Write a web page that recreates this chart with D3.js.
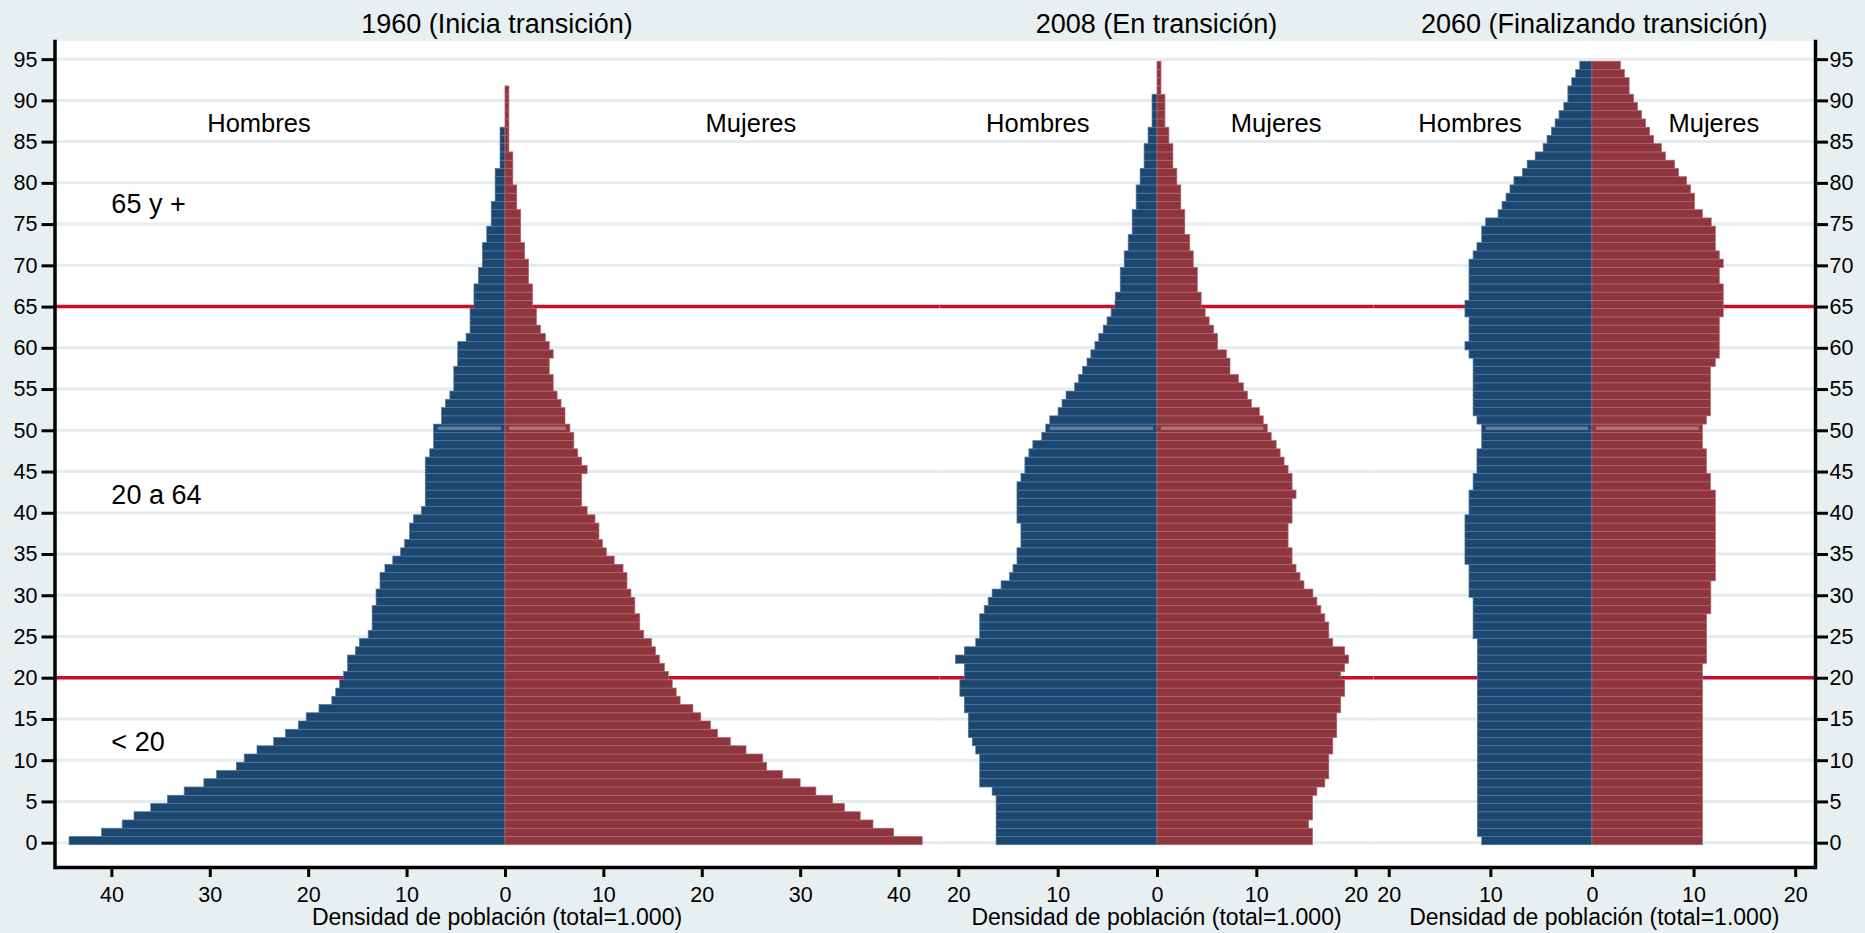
<!DOCTYPE html>
<html>
<head>
<meta charset="utf-8">
<script src="https://cdn.jsdelivr.net/npm/d3@7"></script>
<style>
    body { margin: 0; background: #e8eff1; }
    svg { display: block; font-family: "Liberation Sans", Arial, sans-serif; }
</style>
</head>
<body>
<svg id="pyramid"></svg>
<script>
/// Data: share of population per single year of age (index = age), per 1.000
var men1960 = [44.3, 41.0, 38.9, 37.7, 36.0, 34.3, 32.6, 30.6, 29.3, 27.3,
    26.5, 25.2, 23.5, 22.3, 21.0, 20.2, 18.9, 17.6, 17.2, 16.8,
    16.4, 16.0, 16.0, 15.2, 14.8, 13.9, 13.5, 13.5, 13.5, 13.1,
    13.1, 12.7, 12.7, 12.2, 11.4, 10.6, 10.2, 9.7, 9.7, 9.3,
    8.5, 8.1, 8.1, 8.1, 8.1, 8.1, 8.1, 7.65, 7.25, 7.25,
    7.25, 6.45, 6.45, 6.05, 5.6, 5.2, 5.2, 5.2, 4.8, 4.8,
    4.8, 3.95, 3.55, 3.55, 3.55, 3.15, 3.15, 3.15, 2.7, 2.7,
    2.3, 2.3, 2.3, 1.85, 1.85, 1.4, 1.4, 1.4, 1.0, 1.0,
    1.0, 1.0, 0.5, 0.5, 0.5, 0.5, 0.5];
var women1960 = [42.4, 39.5, 37.4, 36.1, 34.5, 33.3, 31.6, 30.0, 28.2, 26.6,
    26.2, 24.5, 22.9, 21.6, 20.9, 19.9, 19.1, 17.8, 17.4, 17.0,
    16.6, 16.2, 15.7, 15.3, 14.9, 14.1, 13.7, 13.7, 13.2, 13.2,
    12.8, 12.4, 12.4, 12.0, 11.1, 10.3, 9.9, 9.55, 9.55, 9.15,
    8.35, 7.8, 7.8, 7.8, 7.8, 8.35, 7.8, 7.4, 7.0, 7.0,
    6.6, 6.1, 6.1, 5.7, 5.3, 4.9, 4.9, 4.5, 4.5, 4.9,
    4.5, 4.1, 3.6, 3.2, 3.2, 2.8, 2.8, 2.8, 2.4, 2.4,
    2.4, 2.0, 2.0, 1.6, 1.6, 1.6, 1.6, 1.2, 1.2, 1.2,
    0.8, 0.8, 0.8, 0.8, 0.4, 0.4, 0.4, 0.4, 0.4, 0.4,
    0.4, 0.4];
var men2008 = [16.2, 16.2, 16.2, 16.2, 16.2, 16.2, 16.6, 17.85, 17.85, 17.85,
    17.85, 18.25, 18.6, 19.0, 19.0, 19.0, 19.4, 19.4, 19.85, 19.85,
    19.4, 19.4, 20.3, 19.4, 18.25, 17.85, 17.85, 17.85, 17.4, 17.0,
    16.6, 15.7, 14.85, 14.5, 14.1, 14.1, 13.7, 13.7, 13.7, 14.1,
    14.1, 14.1, 14.1, 14.1, 13.7, 13.3, 13.3, 12.9, 12.5, 11.6,
    11.2, 10.8, 9.96, 9.56, 9.16, 8.29, 7.89, 7.49, 7.05, 6.66,
    6.25, 5.86, 5.42, 5.03, 4.62, 4.23, 4.2, 3.7, 3.7, 3.7,
    3.3, 3.3, 2.9, 2.9, 2.5, 2.5, 2.5, 2.1, 2.1, 2.1,
    1.7, 1.7, 1.3, 1.3, 1.3, 0.9, 0.9, 0.5, 0.5, 0.5,
    0.5];
var women2008 = [15.66, 15.66, 15.27, 15.66, 15.66, 15.66, 16.1, 16.9, 17.3, 17.3,
    17.3, 17.7, 17.7, 18.1, 18.1, 18.1, 18.5, 18.5, 18.9, 18.9,
    18.5, 18.9, 19.3, 18.9, 17.7, 17.3, 17.3, 16.9, 16.5, 16.1,
    15.7, 14.8, 14.4, 14.0, 13.6, 13.6, 13.2, 13.2, 13.2, 13.6,
    13.6, 13.6, 14.0, 13.6, 13.6, 13.2, 12.8, 12.4, 12.0, 11.5,
    11.1, 10.7, 10.3, 9.5, 9.1, 8.7, 8.2, 7.35, 7.35, 7.0,
    6.1, 6.1, 5.7, 5.25, 4.85, 4.45, 4.45, 4.06, 4.06, 4.06,
    3.65, 3.65, 3.3, 3.3, 2.8, 2.8, 2.8, 2.4, 2.4, 2.4,
    2.0, 2.0, 1.6, 1.6, 1.6, 1.2, 1.2, 0.8, 0.8, 0.8,
    0.8, 0.4, 0.4, 0.4, 0.4];
var men2060 = [10.85, 11.28, 11.28, 11.28, 11.28, 11.28, 11.28, 11.28, 11.28, 11.28,
    11.28, 11.28, 11.28, 11.28, 11.28, 11.28, 11.28, 11.28, 11.28, 11.28,
    11.28, 11.28, 11.28, 11.28, 11.28, 11.7, 11.7, 11.7, 11.7, 11.7,
    12.1, 12.1, 12.1, 12.1, 12.5, 12.5, 12.5, 12.5, 12.5, 12.5,
    12.1, 12.1, 12.1, 11.7, 11.7, 11.32, 11.32, 11.32, 10.85, 10.85,
    10.85, 11.32, 11.7, 11.7, 11.7, 11.7, 11.7, 11.7, 11.7, 12.1,
    12.5, 12.1, 12.1, 12.1, 12.5, 12.5, 12.1, 12.1, 12.1, 12.1,
    12.1, 11.7, 11.32, 10.85, 10.85, 10.46, 9.24, 8.85, 8.46, 8.07,
    7.68, 6.85, 6.38, 5.59, 4.81, 4.42, 4.0, 3.63, 3.24, 2.77,
    2.37, 2.37, 1.99, 1.6, 1.2];
var women2060 = [10.88, 10.88, 10.88, 10.88, 10.88, 10.88, 10.88, 10.88, 10.88, 10.88,
    10.88, 10.88, 10.88, 10.88, 10.88, 10.88, 10.88, 10.88, 10.88, 10.88,
    10.88, 10.88, 11.28, 11.28, 11.28, 11.28, 11.28, 11.28, 11.7, 11.7,
    11.7, 11.7, 12.14, 12.14, 12.14, 12.14, 12.14, 12.14, 12.14, 12.14,
    12.14, 12.14, 12.14, 11.66, 11.66, 11.27, 11.27, 11.27, 10.88, 10.88,
    10.88, 11.27, 11.66, 11.66, 11.66, 11.66, 11.66, 11.66, 12.14, 12.53,
    12.53, 12.53, 12.53, 12.53, 12.92, 12.92, 12.92, 12.92, 12.53, 12.53,
    12.92, 12.53, 12.14, 12.14, 12.14, 11.74, 10.88, 10.1, 10.1, 9.71,
    9.31, 8.53, 8.14, 7.23, 6.84, 6.06, 5.67, 5.27, 4.88, 4.49,
    4.1, 3.66, 3.66, 3.2, 2.8];

/// Labels and ticks
var panelTitles = ["1960 (Inicia transición)", "2008 (En transición)", "2060 (Finalizando transición)"];
var sexLabels = ["Hombres", "Mujeres"];
var groupLabels = ["65 y +", "20 a 64", "< 20"];
var refAges = [20, 65];
var ageTicks = [0, 5, 10, 15, 20, 25, 30, 35, 40, 45, 50, 55, 60, 65, 70, 75, 80, 85, 90, 95];
var xTicks1960 = [-40, -30, -20, -10, 0, 10, 20, 30, 40];
var xTicks2008 = [-20, -10, 0, 10, 20];
var xTicks2060 = [-20, -10, 0, 10, 20];
var xTitle = "Densidad de población (total=1.000)";

/// Layout
var svgWidth = 1865;
var svgHeight = 933;
var plot = {left: 54.5, right: 1815, top: 41, bottom: 867};

var blue = "#1c4770", blueEdge = "#56779a";
var red = "#8f353e", redEdge = "#b0686f";
var refColor = "#c8102e";
var gridColor = "#e4ecef";

var panels = [
    {title: panelTitles[0], men: men1960, women: women1960, ticks: xTicks1960, px: [54.5, 939.5], dom: [-45.78, 44.16], sexAt: 25},
    {title: panelTitles[1], men: men2008, women: women2008, ticks: xTicks2008, px: [939.5, 1373.5], dom: [-21.9, 21.8], sexAt: 12},
    {title: panelTitles[2], men: men2060, women: women2060, ticks: xTicks2060, px: [1373.5, 1815], dom: [-21.5, 21.95], sexAt: 12}
];

var svg = d3.select("#pyramid")
    .attr("width", svgWidth)
    .attr("height", svgHeight);

svg.append("rect")
    .attr("width", svgWidth)
    .attr("height", svgHeight)
    .attr("fill", "#e8eff1");

svg.append("rect")
    .attr("x", plot.left)
    .attr("y", plot.top)
    .attr("width", plot.right - plot.left)
    .attr("height", plot.bottom - plot.top)
    .attr("fill", "#fff");

/// Shared age scale
var y = d3.scaleLinear().domain([-2.95, 97.2]).range([plot.bottom, plot.top]);

panels.forEach(function(p, pi) {
    var x = d3.scaleLinear().domain(p.dom).range(p.px);
    var g = svg.append("g");
    var mid = (p.px[0] + p.px[1]) / 2;

    // gridlines
    g.selectAll(".grid")
        .data(ageTicks)
        .enter()
        .append("line")
        .attr("x1", p.px[0])
        .attr("x2", p.px[1])
        .attr("y1", d => y(d))
        .attr("y2", d => y(d))
        .attr("stroke", gridColor)
        .attr("stroke-width", 3);

    // reference lines at 20 and 65
    g.selectAll(".ref")
        .data(refAges)
        .enter()
        .append("line")
        .attr("x1", p.px[0])
        .attr("x2", p.px[1])
        .attr("y1", d => y(d))
        .attr("y2", d => y(d))
        .attr("stroke", refColor)
        .attr("stroke-width", 3.5);

    // men to the left
    g.selectAll(".men")
        .data(p.men)
        .enter()
        .append("rect")
        .attr("x", d => x(-d))
        .attr("y", (d, i) => y(i + 0.75))
        .attr("width", d => x(0) - x(-d))
        .attr("height", (d, i) => y(i - 0.25) - y(i + 0.75))
        .attr("fill", blue)
        .attr("stroke", blueEdge)
        .attr("stroke-width", 0.7);

    // women to the right
    g.selectAll(".women")
        .data(p.women)
        .enter()
        .append("rect")
        .attr("x", x(0))
        .attr("y", (d, i) => y(i + 0.75))
        .attr("width", d => x(d) - x(0))
        .attr("height", (d, i) => y(i - 0.25) - y(i + 0.75))
        .attr("fill", red)
        .attr("stroke", redEdge)
        .attr("stroke-width", 0.7);

    // light streak across the age-50 bars
    g.append("line")
        .attr("x1", x(-p.men[50]) + 4)
        .attr("x2", x(0) - 4)
        .attr("y1", y(50.25))
        .attr("y2", y(50.25))
        .attr("stroke", "#fff")
        .attr("stroke-opacity", 0.3)
        .attr("stroke-width", 3.5);
    g.append("line")
        .attr("x1", x(0) + 4)
        .attr("x2", x(p.women[50]) - 4)
        .attr("y1", y(50.25))
        .attr("y2", y(50.25))
        .attr("stroke", "#fff")
        .attr("stroke-opacity", 0.3)
        .attr("stroke-width", 3.5);

    // Hombres / Mujeres
    g.selectAll(".sex")
        .data(sexLabels)
        .enter()
        .append("text")
        .attr("x", (d, i) => x(i === 0 ? -p.sexAt : p.sexAt))
        .attr("y", y(86.2))
        .attr("text-anchor", "middle")
        .attr("font-size", 25.5)
        .text(d => d);

    // age group labels, first panel only
    if (pi === 0) {
        var groupAt = [76.3, 41.1, 11.1];
        g.selectAll(".grp")
            .data(groupLabels)
            .enter()
            .append("text")
            .attr("x", x(-40))
            .attr("y", (d, i) => y(groupAt[i]))
            .attr("font-size", 27)
            .text(d => d);
    }

    // panel title
    svg.append("text")
        .attr("x", mid)
        .attr("y", 33)
        .attr("text-anchor", "middle")
        .attr("font-size", 27)
        .text(p.title);

    // x axis
    var xAxis = svg.append("g")
        .attr("transform", `translate(0, ${plot.bottom})`)
        .call(d3.axisBottom(x)
            .tickValues(p.ticks)
            .tickSize(10)
            .tickSizeOuter(0)
            .tickPadding(10)
            .tickFormat(d => Math.abs(d)));
    xAxis.select(".domain").attr("stroke-width", 3.5);
    xAxis.selectAll(".tick line").attr("stroke-width", 3);
    xAxis.selectAll("text").attr("font-size", 21.5).attr("font-family", null);

    svg.append("text")
        .attr("x", mid)
        .attr("y", 925)
        .attr("text-anchor", "middle")
        .attr("font-size", 23)
        .text(xTitle);
});

/// Age axes on both sides
var leftAxis = svg.append("g")
    .attr("transform", `translate(${plot.left}, 0)`)
    .call(d3.axisLeft(y).tickValues(ageTicks).tickSize(13).tickSizeOuter(0).tickPadding(4));
var rightAxis = svg.append("g")
    .attr("transform", `translate(${plot.right}, 0)`)
    .call(d3.axisRight(y).tickValues(ageTicks).tickSize(13).tickSizeOuter(0).tickPadding(1.5));

[leftAxis, rightAxis].forEach(function(a) {
    a.select(".domain").attr("stroke-width", 3.5).attr("stroke-linecap", "square");
    a.selectAll(".tick line").attr("stroke-width", 3);
    a.selectAll("text").attr("font-size", 21.5).attr("font-family", null);
});
</script>
</body>
</html>
